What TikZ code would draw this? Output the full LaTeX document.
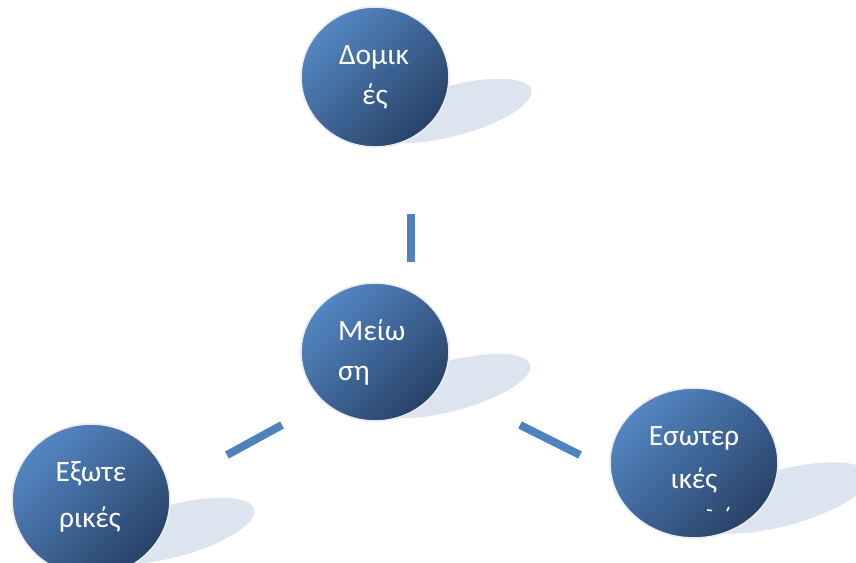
\documentclass[tikz,border=0pt]{standalone}
\usepackage{fontspec}
\setmainfont{Carlito}
\usetikzlibrary{shapes.geometric}
\definecolor{lightblue}{RGB}{84,134,194}
\definecolor{darkblue}{RGB}{40,66,104}
\definecolor{shadowblue}{RGB}{220,228,240}
\definecolor{barblue}{RGB}{79,129,189}
\definecolor{rimgray}{RGB}{236,236,238}
\tikzset{
  bubble/.style={ellipse, draw=rimgray, line width=1.6pt, inner sep=0pt,
    top color=lightblue, bottom color=darkblue, shading angle=45},
  shadowshape/.style={fill=shadowblue, draw=none},
  lbl/.style={text=white, font=\fontsize{29.5}{34}\selectfont, inner sep=0pt, anchor=base},
  lbll/.style={lbl, anchor=base west},
  bar/.style={draw=barblue, line width=8pt}
}
\begin{document}
\begin{tikzpicture}[x=1pt,y=-1pt]
\useasboundingbox (0,0) rectangle (856,562);
% shadows
\fill[shadowshape, rotate around={15:(452,111)}] (452,111) ellipse [x radius=82, y radius=25];
\fill[shadowshape, rotate around={15:(451,386)}] (451,386) ellipse [x radius=82, y radius=25];
\fill[shadowshape, rotate around={15:(173,531)}] (173,531) ellipse [x radius=84, y radius=26];
\fill[shadowshape, rotate around={15:(782,498)}] (782,498) ellipse [x radius=90, y radius=28];
% circles
\node[bubble, minimum width=148pt, minimum height=140pt] (top) at (375,77) {};
\node[bubble, minimum width=148pt, minimum height=138pt] (mid) at (375,352) {};
\node[bubble, minimum width=158pt, minimum height=152pt] (bl) at (91,500) {};
\node[bubble, minimum width=168pt, minimum height=150pt] (br) at (694,463) {};
% labels
\node[lbl] (t1) at (374,64) {Δομικ};
\node[lbl] (t2) at (375,104) {ές};
\node[lbll] (m1) at (338,340) {Μείω};
\node[lbll] (m2) at (338,380) {ση};
\node[lbl] (b1) at (91,481) {Εξωτε};
\node[lbl] (b2) at (90,527) {ρικές};
\node[lbl] (r1) at (694,445) {Εσωτερ};
\node[lbl] (r2) at (694,488) {ικές};
% clipped third-line remnants
\draw[white, line width=1.6pt] (707,510) -- (712,510.5);
\draw[white, line width=1.6pt] (729,507) -- (727,511);
% bars
\coordinate (v1) at (411,214);
\coordinate (v2) at (411,262);
\coordinate (l1) at (227,455);
\coordinate (l2) at (282,425);
\coordinate (r1a) at (520,425);
\coordinate (r2a) at (580,455);
\draw[bar] (v1) -- (v2);
\draw[bar] (l1) -- (l2);
\draw[bar] (r1a) -- (r2a);
\end{tikzpicture}
\end{document}
